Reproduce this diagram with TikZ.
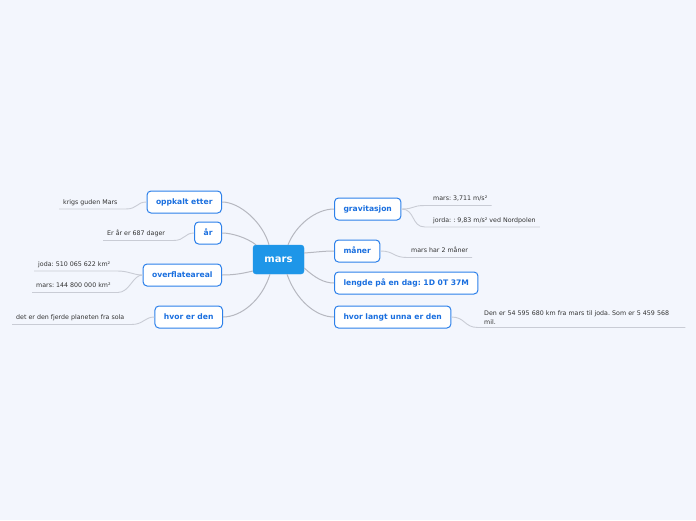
\documentclass[tikz,border=0pt]{standalone}
\usepackage{fontspec}
\setmainfont{DejaVu Sans}
\usetikzlibrary{calc}
\frenchspacing
\definecolor{bgc}{HTML}{F3F6FD}
\definecolor{mainblue}{HTML}{1E96E8}
\definecolor{topicborder}{HTML}{2C80EA}
\definecolor{topictext}{HTML}{1A6FDF}
\definecolor{conn}{HTML}{B6B8C0}
\definecolor{leafl}{HTML}{C9CCD5}
\definecolor{leaftext}{HTML}{333333}
\tikzset{
  mainnode/.style={fill=mainblue, draw=mainblue, rounded corners=3pt, text=white,
    font=\fontsize{10}{12}\selectfont\bfseries, minimum width=51pt, minimum height=29pt, inner sep=0pt},
  topic/.style={fill=white, draw=topicborder, line width=1pt, rounded corners=4pt, text=topictext,
    font=\fontsize{7.6}{9}\selectfont\bfseries, minimum height=22pt, inner xsep=9pt, inner ysep=0pt,
    text height=5.8pt, text depth=1.6pt},
  leaf/.style={text=leaftext, font=\fontsize{6.3}{9}\selectfont\frenchspacing, inner xsep=4pt, inner ysep=3pt,
    text height=4.8pt, text depth=1.4pt, anchor=south west},
  leafwide/.style={text=leaftext, font=\fontsize{6.3}{9}\selectfont\frenchspacing, inner xsep=4pt, inner ysep=0pt,
    anchor=north west, text width=197pt, align=left},
  mainconn/.style={draw=conn, line width=1pt},
  leafconn/.style={draw=leafl, line width=0.9pt},
}
\begin{document}
\begin{tikzpicture}[x=1pt, y=-1pt]
\useasboundingbox[fill=bgc] (0,0) rectangle (696,520);

% central node
\node[mainnode] (C) at (278.5,259.5) {mars};

% left topics
\node[topic, anchor=east] (op) at (222,202) {oppkalt etter};
\node[topic, anchor=east] (ar) at (222,233) {år};
\node[topic, anchor=east] (ov) at (222,275) {overflateareal};
\node[topic, anchor=east] (hv) at (223,317) {hvor er den};

% right topics
\node[topic, anchor=west] (gr) at (334,209) {gravitasjon};
\node[topic, anchor=west] (ma) at (334,251) {måner};
\node[topic, anchor=west] (le) at (334,283) {lengde på en dag: 1D 0T 37M};
\node[topic, anchor=west] (hl) at (334,317) {hvor langt unna er den};

% main connectors
\draw[mainconn] ($(C.north)+(-9.5,0)$) .. controls +(-6,-22) and +(18,0) .. (op.east);
\draw[mainconn] ($(C.north)+(-22.5,0)$) .. controls +(-9,-7) and +(10,0) .. (ar.east);
\draw[mainconn] ($(C.west)+(0,11.5)$) .. controls +(-12,3) and +(10,0) .. (ov.east);
\draw[mainconn] ($(C.south)+(-8.5,0)$) .. controls +(-8,26) and +(18,0) .. (hv.east);
\draw[mainconn] ($(C.north)+(9.5,0)$) .. controls +(8,-20) and +(-18,0) .. (gr.west);
\draw[mainconn] ($(C.east)+(0,-6.5)$) .. controls +(14,-1) and +(-10,0) .. (ma.west);
\draw[mainconn] ($(C.east)+(0,8.5)$) .. controls +(11,10) and +(-10,0) .. (le.west);
\draw[mainconn] ($(C.south)+(8.5,0)$) .. controls +(9,26) and +(-18,0) .. (hl.west);

% left leaves
\node[leaf] (l1) at (59,209) {krigs guden Mars};
\node[leaf] (l2) at (103,240.5) {Er år er 687 dager};
\node[leaf] (l3) at (34,271) {joda: 510 065 622 km²};
\node[leaf] (l4) at (32,292.5) {mars: 144 800 000 km²};
\node[leaf] (l5) at (12,324.5) {det er den fjerde planeten fra sola};

\draw[leafconn] (l1.south west) -- ($(l1.south east)+(4,0)$) .. controls +(12,0) and +(-10,0) .. (op.west);
\draw[leafconn] (l2.south west) -- ($(l2.south east)+(4,0)$) .. controls +(12,0) and +(-10,0) .. (ar.west);
\draw[leafconn] (l3.south west) -- ($(l3.south east)+(3,0)$) .. controls +(12,0) and +(-10,0) .. (ov.west);
\draw[leafconn] (l4.south west) -- ($(l4.south east)+(3,0)$) .. controls +(12,0) and +(-10,0) .. (ov.west);
\draw[leafconn] (l5.south west) -- ($(l5.south east)+(3,0)$) .. controls +(12,0) and +(-10,0) .. (hv.west);

% right leaves
\node[leaf] (r1) at (429,205.5) {mars: 3,711 m/s²};
\node[leaf] (r2) at (429,227) {jorda: : 9,83 m/s² ved Nordpolen};
\node[leaf] (r3) at (407,257.5) {mars har 2 måner};
\node[leafwide] (r4) at (480,310.5) {Den er 54 595 680 km fra mars til joda. Som er 5 459 568\\mil.};
\coordinate (r4a) at ($(r4.north west)+(-2,17)$);
\coordinate (r4b) at ($(r4.north east)+(0,17)$);

\draw[leafconn] (gr.east) .. controls +(14,0) and +(-14,0) .. ($(r1.south west)+(-4,0)$) -- (r1.south east);
\draw[leafconn] (gr.east) .. controls +(14,0) and +(-14,0) .. ($(r2.south west)+(-4,0)$) -- (r2.south east);
\draw[leafconn] (ma.east) .. controls +(14,0) and +(-14,0) .. (r3.south west) -- (r3.south east);
\draw[leafconn] (hl.east) .. controls +(14,0) and +(-14,0) .. (r4a) -- (r4b);
\end{tikzpicture}
\end{document}
